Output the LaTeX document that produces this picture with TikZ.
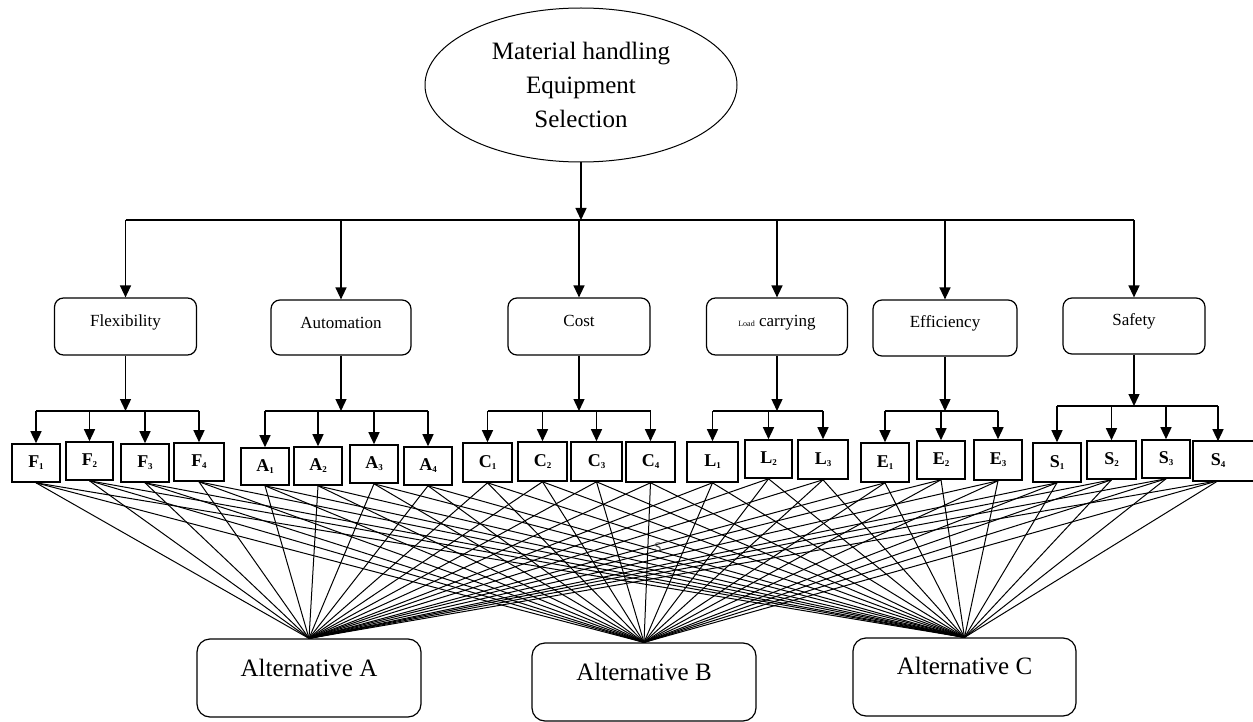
\documentclass[tikz,border=0pt]{standalone}
\usepackage{fontspec}
\setmainfont{Liberation Serif}
\usetikzlibrary{arrows.meta,shapes.geometric}
% bold letter with a small bold index
\newcommand\sublab[2]{\textbf{#1}\raisebox{-2pt}{\fontsize{9}{9}\selectfont\bfseries #2}}
\begin{document}
\begin{tikzpicture}[x=1pt,y=-1pt,
  conn/.style={line width=1.4pt,-{Triangle[length=12pt,width=11pt]}},
  barline/.style={line width=1.4pt},
  web/.style={line width=1pt},
  goalnode/.style={ellipse,draw,line width=1pt,minimum width=312pt,minimum height=154pt,
    inner sep=0pt,align=center,font=\fontsize{25}{34}\selectfont},
  critbox/.style={draw,rounded corners=9pt,line width=1.2pt,minimum width=142pt,
    inner sep=0pt,text height=28pt,text depth=29pt,font=\fontsize{17}{17}\selectfont},
  subbox/.style={draw,line width=1.6pt,minimum width=48pt,minimum height=38pt,
    inner sep=0pt,font=\fontsize{18}{18}\selectfont},
  altbox/.style={draw,rounded corners=13pt,line width=1.2pt,minimum width=224pt,
    inner sep=0pt,text height=37pt,text depth=41pt,font=\fontsize{25}{25}\selectfont}]
\useasboundingbox (0,0) rectangle (1253,722);
\clip (0,0) rectangle (1253,722);

% goal
\node[goalnode] (root) at (581,85) {Material handling\\Equipment\\Selection};

% criteria
\node[critbox] (flex) at (125.5,326.5) {Flexibility};
\node[critbox,minimum width=140pt,text depth=27pt] (auto) at (341,327.5) {Automation};
\node[critbox] (cost) at (579,326.5) {Cost};
\node[critbox,minimum width=141pt] (load) at (777,326.5) {{\fontsize{8}{8}\selectfont Load} carrying};
\node[critbox,minimum width=144pt,text depth=29pt,text height=27pt] (eff) at (945,328) {Efficiency};
\node[critbox,text height=27pt,text depth=29pt] (safe) at (1134,326) {Safety};

% sub-criteria
\node[subbox] (F1) at (36,463) {\sublab{F}{1}};
\node[subbox,minimum width=47pt] (F2) at (89.5,461) {\sublab{F}{2}};
\node[subbox] (F3) at (145,463) {\sublab{F}{3}};
\node[subbox,minimum width=50pt] (F4) at (199,462) {\sublab{F}{4}};
\node[subbox,minimum height=37pt] (A1) at (265,466.5) {\sublab{A}{1}};
\node[subbox] (A2) at (318,466) {\sublab{A}{2}};
\node[subbox] (A3) at (374,464) {\sublab{A}{3}};
\node[subbox] (A4) at (428,466) {\sublab{A}{4}};
\node[subbox,minimum width=49pt,minimum height=39pt] (C1) at (487.5,462.5) {\sublab{C}{1}};
\node[subbox,minimum width=49pt,minimum height=39pt] (C2) at (542.5,461.5) {\sublab{C}{2}};
\node[subbox,minimum width=51pt,minimum height=39pt] (C3) at (596.5,461.5) {\sublab{C}{3}};
\node[subbox,minimum width=49pt,minimum height=40pt] (C4) at (650.5,462) {\sublab{C}{4}};
\node[subbox,minimum width=51pt,minimum height=40pt] (L1) at (712.5,462) {\sublab{L}{1}};
\node[subbox,minimum width=47pt] (L2) at (768.5,459) {\sublab{L}{2}};
\node[subbox,minimum width=50pt,minimum height=39pt] (L3) at (823,459.5) {\sublab{L}{3}};
\node[subbox,minimum height=39pt] (E1) at (885,462.5) {\sublab{E}{1}};
\node[subbox] (E2) at (941,460) {\sublab{E}{2}};
\node[subbox,minimum height=40pt] (E3) at (998,460) {\sublab{E}{3}};
\node[subbox,minimum height=39pt] (S1) at (1057,462.5) {\sublab{S}{1}};
\node[subbox,minimum width=49pt] (S2) at (1111.5,460) {\sublab{S}{2}};
\node[subbox] (S3) at (1166,459) {\sublab{S}{3}};
\node[subbox,draw=none] (S4) at (1218,461) {\sublab{S}{4}};
% the last box runs on past the right edge
\draw[line width=1.6pt] (S4.north west) ++(80,0) -- (S4.north west) -- (S4.south west) -- ++(80,0);

% alternatives
\node[altbox] (altA) at (309,678) {Alternative A};
\node[altbox] (altB) at (644,682) {Alternative B};
\node[altbox,minimum width=223pt,text height=36pt,text depth=42pt] (altC) at (964.5,677) {Alternative C};

% goal to criteria
\coordinate (bus) at (0,220);
\draw[conn] (root.south) -- (root.south |- bus);
\draw[barline] (flex |- bus) -- (safe |- bus);
\foreach \c in {flex,auto,cost,load,eff,safe}
  \draw[conn] (\c |- bus) -- (\c.north);

% criteria to sub-criteria
\coordinate (bar) at (0,411);
\coordinate (sbar) at (0,406);
\foreach \c/\first/\last/\list/\y in {flex/F1/F4/{F1,F2,F3,F4}/bar,
    auto/A1/A4/{A1,A2,A3,A4}/bar, cost/C1/C4/{C1,C2,C3,C4}/bar,
    load/L1/L3/{L1,L2,L3}/bar, eff/E1/E3/{E1,E2,E3}/bar,
    safe/S1/S4/{S1,S2,S3,S4}/sbar}{
  \draw[conn] (\c.south) -- (\c.south |- \y);
  \draw[barline] (\first |- \y) -- (\last |- \y);
  \foreach \s in \list
    \draw[conn] (\s |- \y) -- (\s.north);
}

% every sub-criterion to every alternative
\foreach \s in {F1,F2,F3,F4,A1,A2,A3,A4,C1,C2,C3,C4,L1,L2,L3,E1,E2,E3,S1,S2,S3,S4}
  \foreach \t in {altA,altB,altC}
    \draw[web] (\s.south) -- (\t.north);

\node[font=\fontsize{13}{13}\selectfont,text=black!75] (mark) at (658,547) {S};
\end{tikzpicture}
\end{document}
